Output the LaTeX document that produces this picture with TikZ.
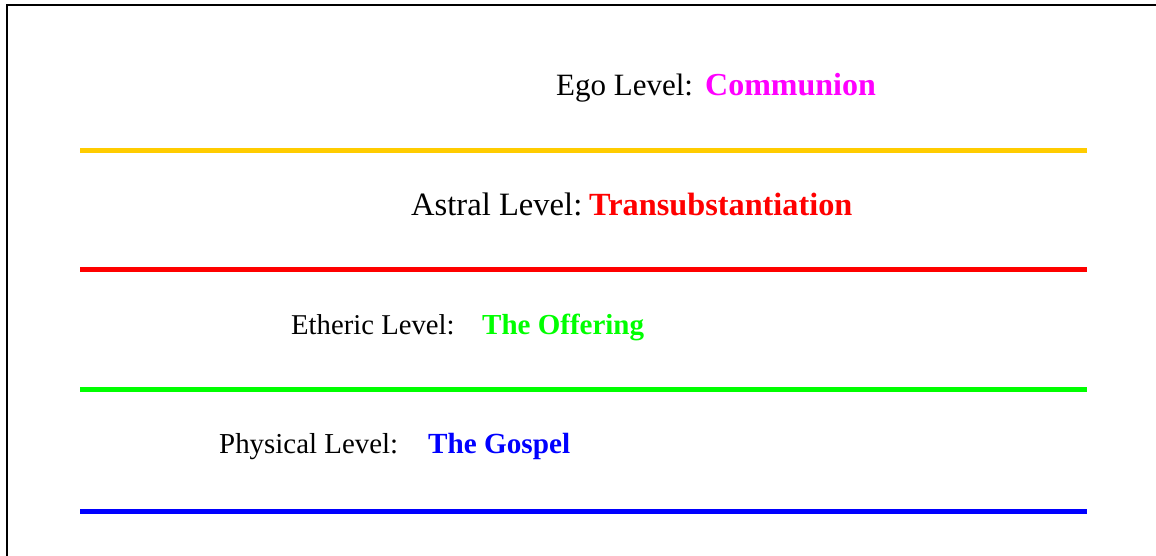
\documentclass[tikz,border=0pt]{standalone}
\usepackage{fontspec}
\setmainfont{Liberation Serif}
\usepackage{xcolor}
\usepackage{tikz}
\usetikzlibrary{positioning}
\definecolor{egocol}{HTML}{FF00FF}
\definecolor{gold}{HTML}{FFCC00}
\definecolor{astralcol}{HTML}{FF0000}
\definecolor{ethercol}{HTML}{00FF00}
\definecolor{physcol}{HTML}{0000FF}
\tikzset{
  lvltext/.style={anchor=base west,inner sep=0pt,font=\fontsize{#1bp}{#1bp}\selectfont},
  lvltext/.default=30,
  lvlname/.style={lvltext=#1,font=\fontsize{#1bp}{#1bp}\selectfont\bfseries},
  lvlname/.default=30,
  divider/.style={line width=5bp},
  frame/.style={line width=2bp,draw=black}
}
\begin{document}
\begin{tikzpicture}[x=1bp,y=-1bp]
  \useasboundingbox (0,0) rectangle (1156,556);
  \draw[frame] (6.5,556) -- (6.5,5.5) -- (1156,5.5);
  \node[lvltext=31] (ego) at (556,96) {Ego Level:};
  \node[lvlname=32,text=egocol] (egoname) at (705,96) {Communion};
  \node[lvltext=32.6] (astral) at (411,216) {Astral Level:};
  \node[lvlname=32.3,text=astralcol] (astralname) at (589,216) {Transubstantiation};
  \node[lvltext=28.7] (ether) at (291,335) {Etheric Level:};
  \node[lvlname=29,text=ethercol] (ethername) at (482,335) {The Offering};
  \node[lvltext=28.9] (phys) at (219,453) {Physical Level:};
  \node[lvlname=29.2,text=physcol] (physname) at (428,453) {The Gospel};
  \draw[divider,draw=gold] (80,151) -- (1087,151);
  \draw[divider,draw=astralcol] (80,270) -- (1087,270);
  \draw[divider,draw=ethercol] (80,390) -- (1087,390);
  \draw[divider,draw=physcol] (80,511) -- (1087,511);
\end{tikzpicture}
\end{document}
